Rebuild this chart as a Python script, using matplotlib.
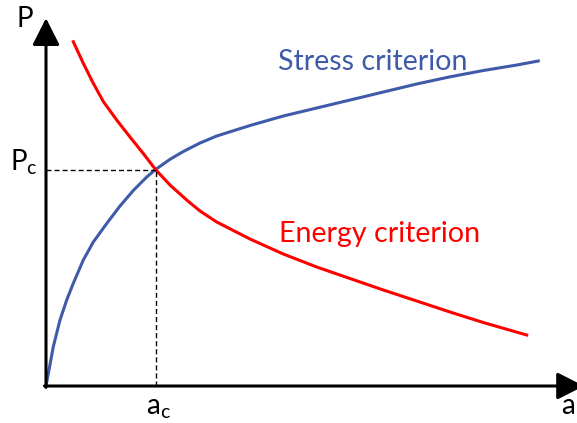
import numpy as np
import matplotlib.pyplot as plt

# stress criterion curve (a, P)
a_stress = [0, 0.146, 0.28, 0.414, 0.546, 0.746, 0.946, 1.214, 1.48, 1.746, 2.014, 2.19,
            2.48, 2.746, 3.08, 3.414, 4.08, 4.746, 5.414, 6.08, 6.746, 7.414, 8.08,
            8.746, 9.414, 9.846]
p_stress = [0, 1.123, 1.886, 2.457, 2.934, 3.6, 4.114, 4.643, 5.143, 5.586, 5.971, 6.186,
            6.477, 6.7, 6.943, 7.143, 7.443, 7.714, 7.943, 8.171, 8.4, 8.629, 8.834,
            9.014, 9.171, 9.286]

# energy criterion curve (a, P)
a_energy = [0.546, 0.746, 0.946, 1.146, 1.414, 1.68, 1.946, 2.19, 2.48, 2.814, 3.08,
            3.414, 4.08, 4.746, 5.414, 6.08, 6.746, 7.414, 8.08, 8.746, 9.614]
p_energy = [9.837, 9.22, 8.649, 8.129, 7.6, 7.114, 6.643, 6.186, 5.743, 5.314, 5.0,
            4.686, 4.2, 3.771, 3.4, 3.071, 2.743, 2.429, 2.114, 1.814, 1.457]

a_c = 2.19
p_c = 6.186

blue = '#3f5aa8'
red = '#ff0000'

plt.rcParams['font.family'] = ['Lato', 'DejaVu Sans']

fig = plt.figure(figsize=(5.77, 4.23), dpi=100)
ax = fig.add_axes([0, 0, 1, 1])
ax.set_xlim(-0.92, 10.62)
ax.set_ylim(-1.057, 11.029)
ax.axis('off')

ax.plot(a_stress, p_stress, color=blue, lw=2.2, solid_joinstyle='round')
ax.plot(a_energy, p_energy, color=red, lw=2.2, solid_joinstyle='round')

ax.plot([0, a_c], [p_c, p_c], color='black', lw=1, ls='--', dashes=(3.6, 2.2))
ax.plot([a_c, a_c], [0, p_c], color='black', lw=1, ls='--', dashes=(3.6, 2.2))

arrow = dict(arrowstyle='-|>,head_length=0.75,head_width=0.38', lw=2.2, color='black',
             mutation_scale=22, shrinkA=0, shrinkB=0)
ax.annotate('', xy=(0, 10.51), xytext=(0, -0.04), arrowprops=arrow)
ax.annotate('', xy=(10.76, 0), xytext=(-0.03, 0), arrowprops=arrow, annotation_clip=False)

ax.text(-0.6, 10.26, 'P', fontsize=20, ha='left', va='baseline')
ax.text(-0.72, 6.17, r'P$_\mathregular{c}$', fontsize=20, ha='left', va='baseline')
ax.text(2.0, -0.8, r'a$_\mathregular{c}$', fontsize=20, ha='left', va='baseline')
ax.text(10.3, -0.8, 'a', fontsize=20, ha='left', va='baseline')
ax.text(4.64, 9.03, 'Stress criterion', fontsize=20.6, color=blue, ha='left', va='baseline')
ax.text(4.66, 4.11, 'Energy criterion', fontsize=20.6, color=red, ha='left', va='baseline')

fig.savefig('out.png', dpi=100)
